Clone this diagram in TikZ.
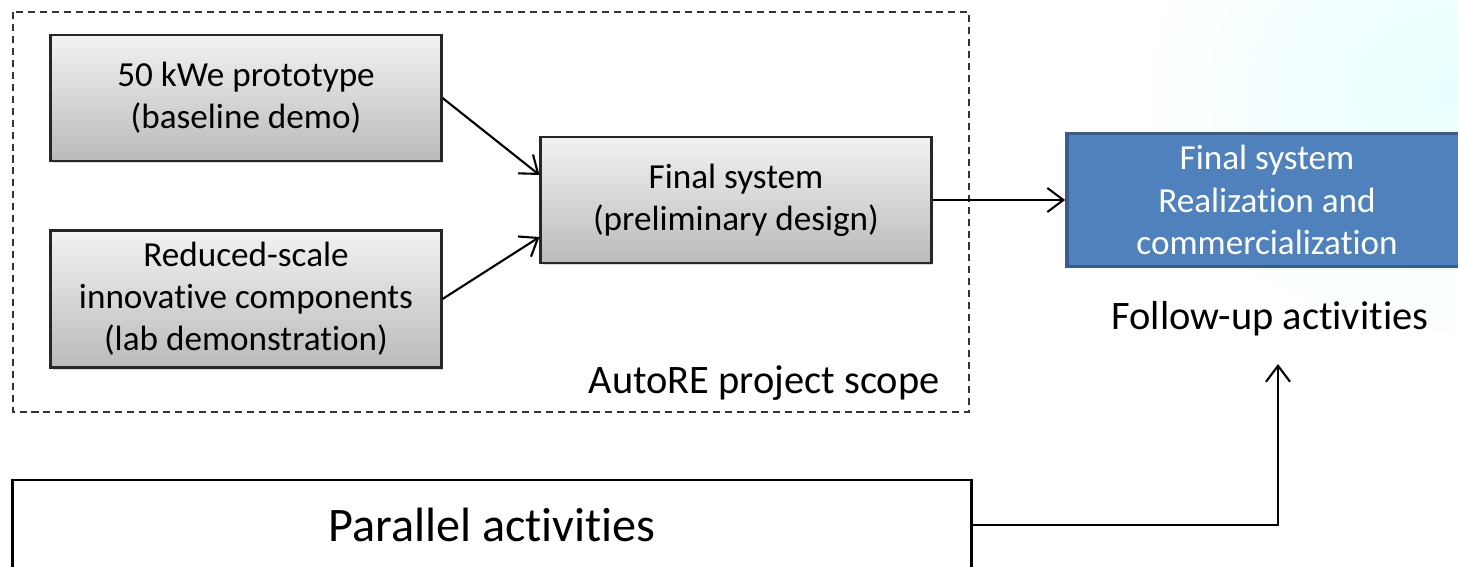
\documentclass[tikz,border=0pt]{standalone}
\usepackage{fontspec}
\setmainfont{Carlito}[Ligatures=NoCommon]
\usepackage{tikz}
\usepackage{xcolor}
\usetikzlibrary{arrows.meta, positioning, shadows}
\definecolor{boxblue}{HTML}{4F81BD}
\definecolor{boxblueline}{HTML}{385D8A}
\tikzstyle{graybox} = [rectangle,
minimum width=3.9cm,
minimum height=1.26cm,
text centered,
align=center,
top color=black!5,
bottom color=black!27,
draw=black!85,
line width=0.8pt,
font=\fontsize{10}{12}\selectfont,
drop shadow={opacity=0.3, shadow xshift=0.6pt, shadow yshift=-0.6pt}]
\tikzstyle{bluebox} = [rectangle,
minimum width=4cm,
minimum height=1.27cm,
text centered,
align=center,
fill=boxblue,
draw=boxblueline,
line width=1pt,
text=white,
font=\fontsize{10}{12}\selectfont]
\tikzstyle{plainbox} = [rectangle,
minimum width=9.58cm,
minimum height=0.9cm,
draw=black,
line width=0.8pt,
fill=white]
\tikzstyle{scope} = [draw=black!80, line width=0.4pt, dash pattern=on 2pt off 1.4pt]
\tikzstyle{arrow} = [line width=0.6pt,-{Straight Barb[length=1.6mm,width=2.4mm]},draw=black]

\begin{document}
\begin{tikzpicture}[x=0.01cm, y=-0.01cm]
        \useasboundingbox (0,0) rectangle (1458,567);
        % Hintergrund oben rechts
        \shade[inner color=cyan!9, outer color=white] (1458,90) ellipse [x radius=330, y radius=260];

        % Projektrahmen
        \draw [scope] (13,12) rectangle (969,412);
        \node [anchor=east, font=\fontsize{11.5}{13}\selectfont] (scopelbl) at (952,383) {AutoRE project scope};

        % Kaesten
        \node [graybox] (proto) at (246,98) {50 kWe prototype\\(baseline demo)};
        \node [graybox] (comp) at (246,299) {Reduced-scale\\innovative components\\(lab demonstration)};
        \node [graybox] (prelim) at (736,200) {Final system\\(preliminary design)};
        \node [bluebox] (real) at (1267,200) {Final system\\Realization and\\commercialization};
        \node [font=\fontsize{11.5}{13}\selectfont] (follow) at (1270,319) {Follow-up activities};
        \node [plainbox, font=\fontsize{13.7}{16}\selectfont] (parallel) at (492,525) {Parallel activities};
        \coordinate (followtip) at (1278,364);

        % Verbindungen
        \draw [arrow] (proto.east) -- ([yshift=0.25cm]prelim.west);
        \draw [arrow] (comp.east) -- ([yshift=-0.37cm]prelim.west);
        \draw [arrow] (prelim.east) -- (real.west);
        \draw [arrow] (parallel.east) -| (followtip);
    \end{tikzpicture}
\end{document}
